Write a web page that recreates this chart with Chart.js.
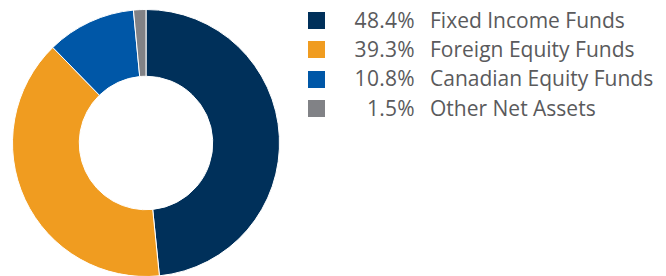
<!DOCTYPE html>
<html>
<head>
<meta charset="utf-8">
<script src="https://cdn.jsdelivr.net/npm/chart.js@4"></script>
<style>
  html, body { margin: 0; padding: 0; background: #fff; width: 666px; height: 276px; overflow: hidden; }
  #wrap { position: absolute; left: 12px; top: 9px; width: 268px; height: 268px; }
  #legend { position: absolute; left: 308px; top: 5.5px; font-family: "Open Sans", Roboto, sans-serif; font-size: 21px; color: #5a5a5c; }
  .row { position: relative; height: 29.4px; line-height: 29.4px; white-space: nowrap; }
  .sw { position: absolute; left: 0; top: 6.5px; width: 17px; height: 17px; }
  .pct { position: absolute; left: 20px; width: 87px; text-align: right; letter-spacing: 0.3px; }
  .lab { position: absolute; left: 122px; }
</style>
</head>
<body>
<div id="wrap"><canvas id="c"></canvas></div>
<div id="legend"></div>
<script>
const categories = ["Fixed Income Funds", "Foreign Equity Funds", "Canadian Equity Funds", "Other Net Assets"];
const values = [48.4, 39.3, 10.8, 1.5];
const valueLabels = ["48.4%", "39.3%", "10.8%", "1.5%"];
const colors = ["#00305a", "#f09c20", "#0057a7", "#818286"];

new Chart(document.getElementById('c'), {
  type: 'doughnut',
  data: {
    labels: categories,
    datasets: [{
      data: values,
      backgroundColor: colors,
      borderColor: '#ffffff',
      borderWidth: 1
    }]
  },
  options: {
    responsive: true,
    maintainAspectRatio: false,
    animation: false,
    cutout: '50%',
    layout: { padding: 0 },
    plugins: { legend: { display: false }, tooltip: { enabled: false } }
  }
});

const lg = document.getElementById('legend');
categories.forEach((name, i) => {
  const r = document.createElement('div');
  r.className = 'row';
  r.innerHTML = '<span class="sw" style="background:' + colors[i] + '"></span>' +
    '<span class="pct">' + valueLabels[i] + '</span>' +
    '<span class="lab">' + name + '</span>';
  lg.appendChild(r);
});
</script>
</body>
</html>
